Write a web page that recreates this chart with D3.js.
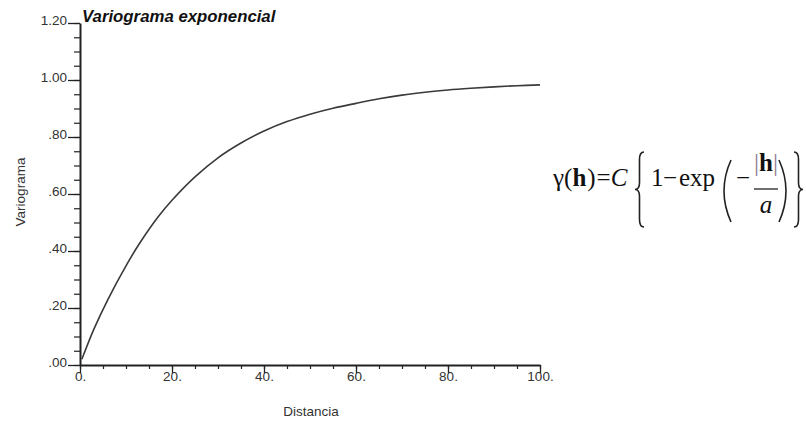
<!DOCTYPE html>
<html>
<head>
<meta charset="utf-8">
<script src="https://cdn.jsdelivr.net/npm/d3@7"></script>
<style>
  html, body { margin: 0; padding: 0; background: #fff; }
  svg { display: block; }
</style>
</head>
<body>
<svg id="chart" width="806" height="422"></svg>
<script>
// Exponential variogram model, sampled along the distance axis
const distances = [0.4, 3, 6, 10, 13, 17, 20, 25, 30, 35, 40, 45, 50, 55, 60, 65, 70, 75, 80, 85, 90, 95, 100];
const gammaValues = [0.02, 0.125, 0.228, 0.348, 0.428, 0.52, 0.578, 0.66, 0.727, 0.779, 0.821, 0.854, 0.88, 0.901, 0.918, 0.934, 0.947, 0.957, 0.965, 0.971, 0.976, 0.98, 0.983];

// Axis ticks and their labels
const xMajorTicks = [0, 20, 40, 60, 80, 100];
const xTickLabels = ["0.", "20.", "40.", "60.", "80.", "100."];
const xMinorTicks = d3.range(0, 101, 5);
const yMajorTicks = [0, 0.2, 0.4, 0.6, 0.8, 1.0, 1.2];
const yTickLabels = [".00", ".20", ".40", ".60", ".80", "1.00", "1.20"];
const yMinorTicks = d3.range(0, 1.2001, 0.05);

const titleText = "Variograma exponencial";
const xTitle = "Distancia";
const yTitle = "Variograma";

const svg = d3.select("#chart");
const sans = "'Liberation Sans', Arial, Helvetica, sans-serif";
const serif = "'Liberation Serif', 'Times New Roman', serif";
const ink = "#222";
const labelInk = "#333";

const x = d3.scaleLinear().domain([0, 100]).range([80, 540]);
const y = d3.scaleLinear().domain([0, 1.2]).range([365, 23]);

// Minor ticks
svg.append("g")
  .attr("transform", `translate(0,${y(0)})`)
  .call(d3.axisBottom(x).tickValues(xMinorTicks).tickSize(4).tickFormat(""))
  .call(g => g.select(".domain").remove())
  .call(g => g.selectAll("line").attr("stroke", ink).attr("stroke-width", 1.2));

svg.append("g")
  .attr("transform", `translate(${x(0)},0)`)
  .call(d3.axisLeft(y).tickValues(yMinorTicks).tickSize(6).tickFormat(""))
  .call(g => g.select(".domain").remove())
  .call(g => g.selectAll("line").attr("stroke", ink).attr("stroke-width", 1.2));

// Major ticks with labels
const xAxis = svg.append("g")
  .attr("transform", `translate(0,${y(0)})`)
  .call(d3.axisBottom(x).tickValues(xMajorTicks).tickSize(8).tickSizeOuter(0)
    .tickFormat((d, i) => xTickLabels[i]));
xAxis.select(".domain").attr("stroke", ink).attr("stroke-width", 2);
xAxis.selectAll(".tick line").attr("stroke", ink).attr("stroke-width", 1.3);
xAxis.selectAll(".tick text")
  .attr("y", 6).attr("dy", "0.71em")
  .attr("fill", labelInk)
  .style("font-family", sans).style("font-size", "13.5px");

const yAxis = svg.append("g")
  .attr("transform", `translate(${x(0)},0)`)
  .call(d3.axisLeft(y).tickValues(yMajorTicks).tickSize(12).tickSizeOuter(0)
    .tickFormat((d, i) => yTickLabels[i]));
yAxis.select(".domain").attr("stroke", ink).attr("stroke-width", 2);
yAxis.selectAll(".tick line").attr("stroke", ink).attr("stroke-width", 1.3);
yAxis.selectAll(".tick text")
  .attr("x", -13).attr("dy", "0.1em")
  .attr("fill", labelInk)
  .style("font-family", sans).style("font-size", "13.5px");

// Variogram curve
const pts = distances.map((d, i) => [d, gammaValues[i]]);
svg.append("path")
  .datum(pts)
  .attr("fill", "none")
  .attr("stroke", "#3a3a3a")
  .attr("stroke-width", 1.6)
  .attr("d", d3.line().x(d => x(d[0])).y(d => y(d[1])).curve(d3.curveCatmullRom.alpha(0.5)));

// Titles
svg.append("text")
  .attr("x", 82).attr("y", 22)
  .style("font-family", sans).style("font-size", "16.8px")
  .style("font-weight", "bold").style("font-style", "italic")
  .attr("fill", "#111")
  .text(titleText);

svg.append("text")
  .attr("x", 311).attr("y", 416)
  .attr("text-anchor", "middle")
  .style("font-family", sans).style("font-size", "13.5px")
  .attr("fill", labelInk)
  .text(xTitle);

svg.append("text")
  .attr("transform", "translate(25,192) rotate(-90)")
  .attr("text-anchor", "middle")
  .style("font-family", sans).style("font-size", "13.5px")
  .attr("fill", labelInk)
  .text(yTitle);

// Model formula: γ(h) = C{1 − exp(−|h|/a)}
const f = svg.append("g").attr("fill", "#111").style("font-family", serif).style("font-size", "25px");
const base = 186;

const lhs = f.append("text").attr("x", 553).attr("y", base);
lhs.append("tspan").text("γ(");
lhs.append("tspan").style("font-weight", "bold").text("h");
lhs.append("tspan").attr("dx", 1).text(")");
lhs.append("tspan").attr("dx", 1).text("=");
lhs.append("tspan").style("font-style", "italic").text("C");

f.append("text").attr("x", 651).attr("y", base).text("1");
f.append("text").attr("x", 663).attr("y", base).text("−");
f.append("text").attr("x", 679).attr("y", base).text("exp");
f.append("text").attr("x", 736).attr("y", base).text("−");

const num = f.append("text").attr("x", 766).attr("y", 171).attr("text-anchor", "middle");
num.append("tspan").attr("fill", "#8a7a94").text("|");
num.append("tspan").style("font-weight", "bold").text("h");
num.append("tspan").attr("fill", "#8a7a94").text("|");

f.append("text").attr("x", 766).attr("y", 213).attr("text-anchor", "middle")
  .style("font-style", "italic").text("a");

f.append("line")
  .attr("x1", 754).attr("x2", 778).attr("y1", 189).attr("y2", 189)
  .attr("stroke", "#111").attr("stroke-width", 1.2);

// Stretched delimiters
function brace(x0, y1, y2, w, dir) {
  const ym = (y1 + y2) / 2, h = y2 - y1;
  const xo = dir > 0 ? x0 + w : x0;       // outer ends
  const xs = x0 + w / 2;                  // stem
  const xt = dir > 0 ? x0 : x0 + w;       // middle point
  return `M${xo},${y1} Q${xs},${y1} ${xs},${y1 + h * 0.1} L${xs},${ym - h * 0.09}` +
         ` Q${xs},${ym} ${xt},${ym} Q${xs},${ym} ${xs},${ym + h * 0.09}` +
         ` L${xs},${y2 - h * 0.1} Q${xs},${y2} ${xo},${y2}`;
}
function paren(x0, y1, y2, w, dir) {
  const xo = dir > 0 ? x0 + w : x0;
  const xi = dir > 0 ? x0 - w * 0.4 : x0 + w * 1.4;
  return `M${xo},${y1} Q${xi},${(y1 + y2) / 2} ${xo},${y2}`;
}
const delim = f.append("g").attr("fill", "none").attr("stroke", "#222").attr("stroke-width", 1.6);
delim.append("path").attr("d", brace(635, 152, 227, 9, 1));
delim.append("path").attr("d", brace(794, 152, 227, 9, -1));
delim.append("path").attr("d", paren(721, 160, 222, 10, 1));
delim.append("path").attr("d", paren(779, 160, 222, 10, -1));
</script>
</body>
</html>
